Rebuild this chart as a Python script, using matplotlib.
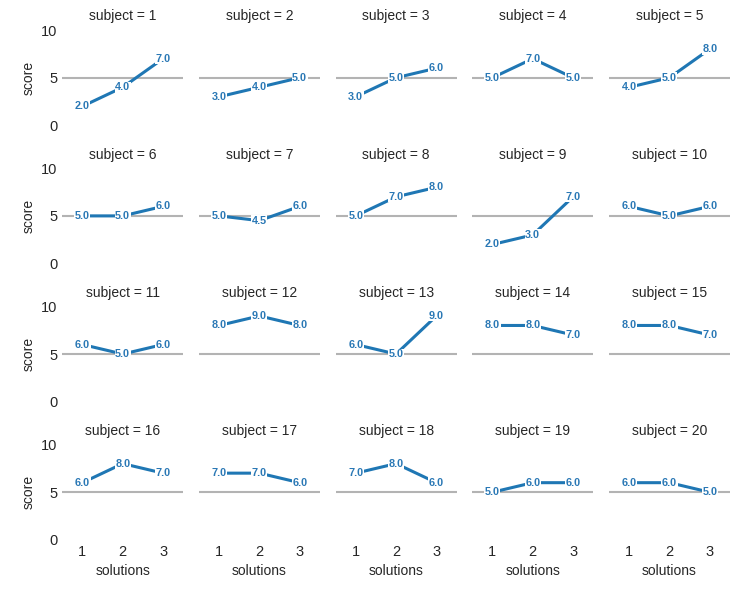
import matplotlib
matplotlib.use("Agg")
import matplotlib.pyplot as plt
import seaborn as sns

solutions = [1, 2, 3]
subjects = list(range(1, 21))
scores = [
    [2, 4, 7], [3, 4, 5], [3, 5, 6], [5, 7, 5], [4, 5, 8],
    [5, 5, 6], [5, 4.5, 6], [5, 7, 8], [2, 3, 7], [6, 5, 6],
    [6, 5, 6], [8, 9, 8], [6, 5, 9], [8, 8, 7], [8, 8, 7],
    [6, 8, 7], [7, 7, 6], [7, 8, 6], [5, 6, 6], [6, 6, 5],
]
baseline = 5

sns.set_style("white")
plt.rcParams['font.family'] = ['Liberation Sans', 'DejaVu Sans']
plt.rcParams['text.color'] = '#262626'
plt.rcParams['axes.labelcolor'] = '#262626'
plt.rcParams['xtick.color'] = '#262626'
plt.rcParams['ytick.color'] = '#262626'

fig, axes = plt.subplots(4, 5, figsize=(7.41, 5.9), dpi=100, sharex=True, sharey=True)
plt.subplots_adjust(left=0.084, right=0.985, top=0.949, bottom=0.085, wspace=0.13, hspace=0.45)

for i, ax in enumerate(axes.flat):
    ys = scores[i]
    ax.axhline(baseline, color='#b3b3b3', lw=1.5, zorder=1)
    ax.plot(solutions, ys, color='#1f77b4', lw=2.2, zorder=2)
    for x, y in zip(solutions, ys):
        ax.text(x, y, f"{y:.1f}", ha='center', va='center', fontsize=7.8, fontweight='bold',
                color='#2a78b5', zorder=3,
                bbox=dict(boxstyle='square,pad=0.05', fc='white', ec='none'))
    ax.set_title(f"subject = {subjects[i]}", fontsize=10, pad=7)
    ax.set_xlim(0.5, 3.5)
    ax.set_ylim(0, 10)
    ax.set_xticks(solutions)
    ax.set_yticks([0, 5, 10])
    ax.tick_params(labelsize=10.5, length=0)
    for s in ax.spines.values():
        s.set_visible(False)
    if i % 5 == 0:
        ax.set_ylabel("score", fontsize=10)
    if i >= 15:
        ax.set_xlabel("solutions", fontsize=10)

plt.savefig("out.png", dpi=100)
